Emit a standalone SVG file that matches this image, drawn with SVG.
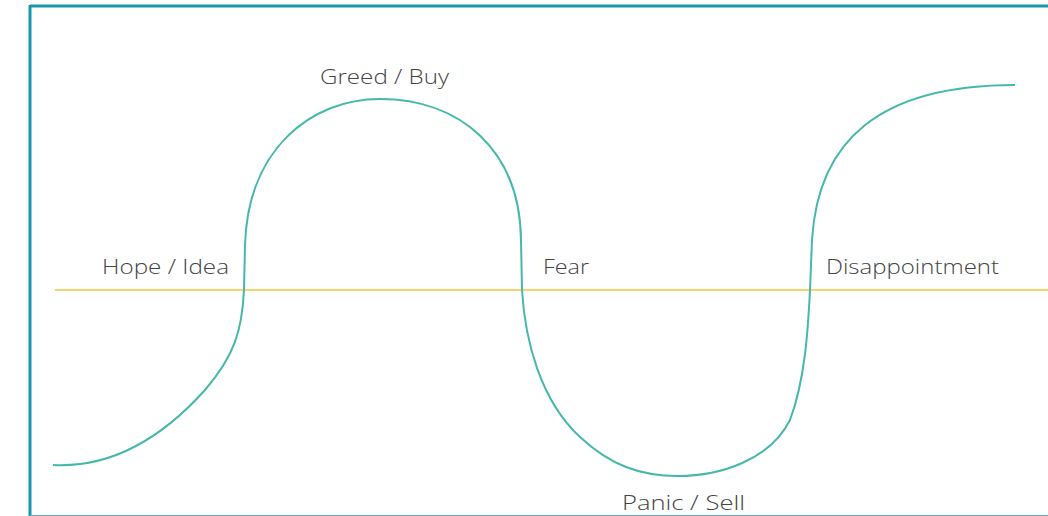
<svg xmlns="http://www.w3.org/2000/svg" width="1048" height="516" viewBox="0 0 1048 516">
<style>
.lbl{font-family:"Open Sans","Liberation Sans",sans-serif;font-size:21px;fill:#444444;font-weight:300}
.curve{fill:none;stroke:#45b8ac;stroke-width:2}
</style>
<rect width="1048" height="516" fill="#ffffff"/>
<g id="frame">
<line x1="30" y1="6" x2="1048" y2="6" stroke="#1797b0" stroke-width="3"/>
<line x1="30" y1="5" x2="30" y2="516" stroke="#1797b0" stroke-width="3"/>
<line x1="30" y1="515.5" x2="1048" y2="515.5" stroke="#5aabbd" stroke-width="1"/>
</g>
<g id="connectors">
<line x1="55" y1="290" x2="1048" y2="290" stroke="#f5c342" stroke-width="1.5"/>
<path class="curve" d="M53,465 C110,468 160,440 205,390 C235,355 242,330 244,290 L245,245 C248,150 310,99 380,99 C460,99 520,150 521,240 L522,290 C525,340 540,400 580,437 C610,465 640,476 678,476 C720,476 770,460 790,420 C805,380 808,330 810,290 L812,240 C818,140 880,85 1015,85"/>
</g>
<g id="greed"><text class="lbl" x="320" y="84" textLength="129" lengthAdjust="spacingAndGlyphs">Greed / Buy</text></g>
<g id="hope"><text class="lbl" x="102" y="274" textLength="127" lengthAdjust="spacingAndGlyphs">Hope / Idea</text></g>
<g id="fear"><text class="lbl" x="543" y="274" textLength="46" lengthAdjust="spacingAndGlyphs">Fear</text></g>
<g id="disappointment"><text class="lbl" x="826" y="274" textLength="173" lengthAdjust="spacingAndGlyphs">Disappointment</text></g>
<g id="panic"><text class="lbl" x="622" y="510" textLength="123" lengthAdjust="spacingAndGlyphs">Panic / Sell</text></g>
</svg>
